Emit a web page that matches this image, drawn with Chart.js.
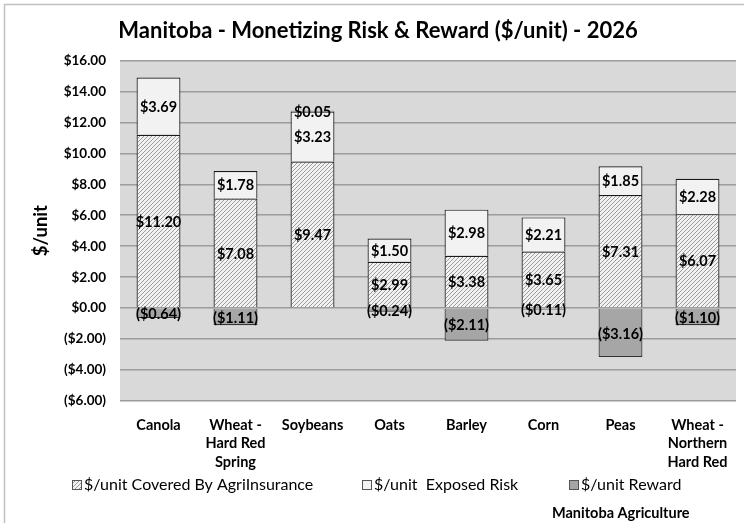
<!DOCTYPE html>
<html>
<head>
<meta charset="utf-8">
<script src="https://cdn.jsdelivr.net/npm/chart.js@4.4.1/dist/chart.umd.min.js"></script>
<style>
  html, body { margin: 0; padding: 0; background: #ffffff; }
  #wrap { width: 744px; height: 523px; position: relative; }
</style>
</head>
<body>
<div id="wrap"><canvas id="c" width="744" height="523"></canvas></div>
<script>
const categories = ["Canola", ["Wheat -", "Hard Red", "Spring"], "Soybeans", "Oats", "Barley", "Corn", "Peas", ["Wheat -", "Northern", "Hard Red"]];
const covered = [11.20, 7.08, 9.47, 2.99, 3.38, 3.65, 7.31, 6.07];
const exposed = [3.69, 1.78, 3.23, 1.50, 2.98, 2.21, 1.85, 2.28];
const reward = [-0.64, -1.11, 0.05, -0.24, -2.11, -0.11, -3.16, -1.10];
const seriesNames = ["$/unit Covered By AgriInsurance", "$/unit  Exposed Risk", "$/unit Reward"];
const yTicks = { min: -6, max: 16, step: 2 };
const titleText = "Manitoba - Monetizing Risk & Reward ($/unit) - 2026";
const yTitle = "$/unit";
const footerText = "Manitoba Agriculture";

const FONT = "Lato, 'Open Sans', sans-serif";

function money(v) {
  const s = '$' + Math.abs(v).toFixed(2);
  return v < 0 ? '(' + s + ')' : s;
}

function makeHatch() {
  const p = document.createElement('canvas');
  p.width = 4; p.height = 4;
  const g = p.getContext('2d');
  g.fillStyle = '#f2f2f2';
  g.fillRect(0, 0, 4, 4);
  g.strokeStyle = '#9a9a9a';
  g.lineWidth = 1;
  g.beginPath();
  g.moveTo(-1, 5); g.lineTo(5, -1);
  g.moveTo(-1, 1); g.lineTo(1, -1);
  g.moveTo(3, 5); g.lineTo(5, 3);
  g.stroke();
  return document.getElementById('c').getContext('2d').createPattern(p, 'repeat');
}
const hatch = makeHatch();

const labelPlugin = {
  id: 'segLabels',
  afterDatasetsDraw(chart) {
    const ctx = chart.ctx;
    ctx.save();
    ctx.font = "bold 14.5px " + FONT;
    ctx.fillStyle = '#000';
    ctx.textAlign = 'center';
    ctx.textBaseline = 'middle';
    chart.data.datasets.forEach((ds, i) => {
      const meta = chart.getDatasetMeta(i);
      meta.data.forEach((el, j) => {
        const v = ds.data[j];
        const cy = (el.y + el.base) / 2;
        ctx.fillText(money(v), el.x, cy + 1);
      });
    });
    ctx.restore();
  }
};

const decoPlugin = {
  id: 'deco',
  beforeDraw(chart) {
    const ctx = chart.ctx;
    const a = chart.chartArea;
    ctx.save();
    ctx.fillStyle = '#ffffff';
    ctx.fillRect(0, 0, chart.width, chart.height);
    ctx.strokeStyle = '#c0c0c0';
    ctx.lineWidth = 1.5;
    ctx.beginPath();
    ctx.moveTo(4.5, chart.height);
    ctx.lineTo(4.5, 4.5);
    ctx.lineTo(chart.width, 4.5);
    ctx.stroke();
    ctx.fillStyle = '#d9d9d9';
    ctx.fillRect(a.left, a.top, a.right - a.left, a.bottom - a.top);
    ctx.restore();
  },
  afterDraw(chart) {
    const ctx = chart.ctx;
    ctx.save();
    const items = [
      { x: 72, fill: hatch, stroke: '#555' },
      { x: 362, fill: '#f2f2f2', stroke: '#555' },
      { x: 569, fill: '#a6a6a6', stroke: '#555' }
    ];
    const y = 485;
    ctx.font = "16px " + FONT;
    ctx.textBaseline = 'middle';
    ctx.textAlign = 'left';
    items.forEach((it, i) => {
      ctx.fillStyle = it.fill;
      ctx.fillRect(it.x, y - 5, 10, 10);
      ctx.strokeStyle = it.stroke;
      ctx.lineWidth = 1;
      ctx.strokeRect(it.x + 0.5, y - 4.5, 9, 9);
      ctx.fillStyle = '#000';
      ctx.fillText(seriesNames[i], it.x + 12, y);
    });
    ctx.font = "bold 14.5px " + FONT;
    ctx.fillText(footerText, 552, 513);
    ctx.restore();
  }
};

new Chart(document.getElementById('c'), {
  type: 'bar',
  data: {
    labels: categories,
    datasets: [
      { label: seriesNames[0], data: covered, backgroundColor: hatch, borderColor: '#1a1a1a', borderWidth: 1.2 },
      { label: seriesNames[1], data: exposed, backgroundColor: '#f2f2f2', borderColor: '#1a1a1a', borderWidth: 1.2 },
      { label: seriesNames[2], data: reward, backgroundColor: '#a6a6a6', borderColor: '#333333', borderWidth: 1.2 }
    ]
  },
  plugins: [decoPlugin, labelPlugin],
  options: {
    responsive: false,
    animation: false,
    devicePixelRatio: 1,
    layout: { padding: { left: 20, right: 8, top: 7, bottom: 46 } },
    datasets: { bar: { barPercentage: 0.57, categoryPercentage: 1.0 } },
    plugins: {
      legend: { display: false },
      tooltip: { enabled: false },
      title: {
        display: true,
        text: titleText,
        color: '#000',
        font: { family: FONT, size: 22, weight: 'bold', lineHeight: 1.2 },
        padding: { top: 11, bottom: 16 }
      }
    },
    scales: {
      x: {
        stacked: true,
        grid: { display: false, drawTicks: false },
        border: { display: false },
        ticks: {
          color: '#000',
          font: { family: FONT, size: 14.5, weight: 'bold', lineHeight: 1.27 },
          padding: 15,
          maxRotation: 0,
          autoSkip: false
        },
        afterFit(s) { s.height = 76; }
      },
      y: {
        stacked: true,
        min: yTicks.min,
        max: yTicks.max,
        border: { display: false },
        grid: { color: '#9c9c9c', lineWidth: 1.5, drawTicks: false },
        ticks: {
          stepSize: yTicks.step,
          color: '#000',
          padding: 14,
          font: { family: FONT, size: 13.5, weight: 'bold' },
          callback: (v) => money(v)
        },
        title: {
          display: true,
          text: yTitle,
          color: '#000',
          font: { family: FONT, size: 18.5, weight: 'bold' },
          padding: { top: 10, bottom: 0 }
        },
        afterFit(s) { s.width = 100; }
      }
    }
  }
});
</script>
</body>
</html>
